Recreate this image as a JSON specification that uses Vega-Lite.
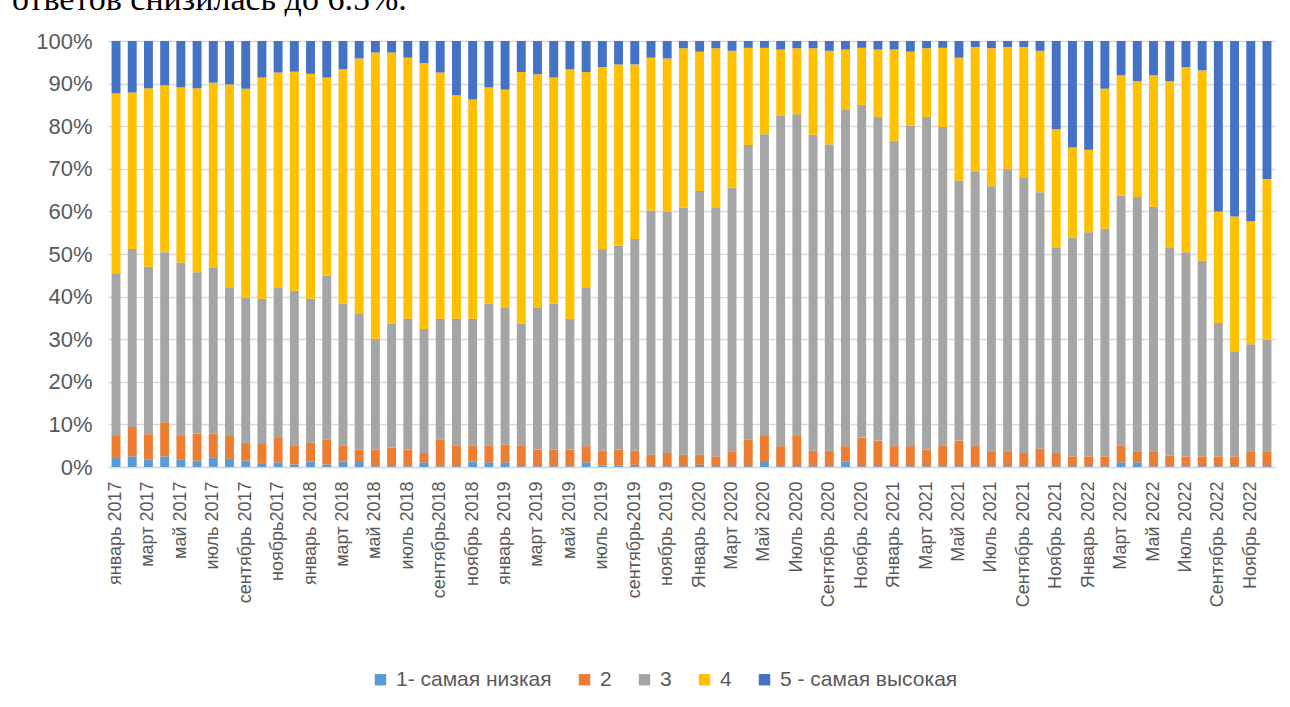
{
  "$schema": "https://vega.github.io/schema/vega-lite/v6.json",
  "width": 1167,
  "height": 426,
  "autosize": {"type": "none"},
  "padding": {"left": 108, "top": 41, "right": 15, "bottom": 240},
  "background": "white",
  "title": {
    "text": "ответов снизилась до 6.5%.",
    "font": "Liberation Serif",
    "fontSize": 34,
    "fontWeight": "normal",
    "color": "#000000",
    "anchor": "start",
    "frame": "group",
    "baseline": "alphabetic",
    "offset": 0,
    "dx": -96,
    "dy": 14
  },
  "data": {
    "values": [
      {"m": "январь 2017", "1- самая низкая": 2.1, "2": 5.2, "3": 38.2, "4": 42.2, "5 - самая высокая": 12.3},
      {"m": "февраль 2017", "1- самая низкая": 2.5, "2": 6.9, "3": 41.8, "4": 36.7, "5 - самая высокая": 12.1},
      {"m": "март 2017", "1- самая низкая": 1.7, "2": 6.0, "3": 39.3, "4": 41.9, "5 - самая высокая": 11.1},
      {"m": "апрель 2017", "1- самая низкая": 2.5, "2": 8.0, "3": 39.9, "4": 39.2, "5 - самая высокая": 10.4},
      {"m": "май 2017", "1- самая низкая": 1.7, "2": 5.6, "3": 40.7, "4": 41.1, "5 - самая высокая": 10.9},
      {"m": "июнь 2017", "1- самая низкая": 1.5, "2": 6.3, "3": 37.9, "4": 43.2, "5 - самая высокая": 11.1},
      {"m": "июль 2017", "1- самая низкая": 2.3, "2": 5.5, "3": 39.1, "4": 43.3, "5 - самая высокая": 9.8},
      {"m": "август 2017", "1- самая низкая": 1.9, "2": 5.4, "3": 34.9, "4": 47.6, "5 - самая высокая": 10.2},
      {"m": "сентябрь 2017", "1- самая низкая": 1.5, "2": 4.2, "3": 34.1, "4": 49.0, "5 - самая высокая": 11.2},
      {"m": "октябрь 2017", "1- самая низкая": 0.9, "2": 4.5, "3": 34.1, "4": 51.9, "5 - самая высокая": 8.6},
      {"m": "ноябрь2017", "1- самая низкая": 1.1, "2": 5.9, "3": 35.2, "4": 50.4, "5 - самая высокая": 7.4},
      {"m": "декабрь 2017", "1- самая низкая": 0.6, "2": 4.5, "3": 36.3, "4": 51.4, "5 - самая высокая": 7.2},
      {"m": "январь 2018", "1- самая низкая": 1.3, "2": 4.4, "3": 33.8, "4": 52.8, "5 - самая высокая": 7.7},
      {"m": "февраль 2018", "1- самая низкая": 0.6, "2": 5.9, "3": 38.4, "4": 46.5, "5 - самая высокая": 8.6},
      {"m": "март 2018", "1- самая низкая": 1.3, "2": 3.8, "3": 33.2, "4": 55.1, "5 - самая высокая": 6.6},
      {"m": "апрель 2018", "1- самая низкая": 1.4, "2": 2.7, "3": 31.8, "4": 60.0, "5 - самая высокая": 4.1},
      {"m": "май 2018", "1- самая низкая": 0.2, "2": 3.9, "3": 26.0, "4": 67.2, "5 - самая высокая": 2.7},
      {"m": "июнь 2018", "1- самая низкая": 0.2, "2": 4.3, "3": 29.1, "4": 63.7, "5 - самая высокая": 2.7},
      {"m": "июль 2018", "1- самая низкая": 0.2, "2": 3.9, "3": 30.7, "4": 61.3, "5 - самая высокая": 3.9},
      {"m": "август 2018", "1- самая низкая": 1.1, "2": 2.2, "3": 29.1, "4": 62.4, "5 - самая высокая": 5.2},
      {"m": "сентябрь2018", "1- самая низкая": 0.2, "2": 6.3, "3": 28.3, "4": 57.8, "5 - самая высокая": 7.4},
      {"m": "октябрь 2018", "1- самая низкая": 0.2, "2": 4.9, "3": 29.7, "4": 52.5, "5 - самая высокая": 12.7},
      {"m": "ноябрь 2018", "1- самая низкая": 1.3, "2": 3.8, "3": 29.7, "4": 51.5, "5 - самая высокая": 13.7},
      {"m": "декабрь 2018", "1- самая низкая": 1.1, "2": 4.0, "3": 33.3, "4": 50.7, "5 - самая высокая": 10.9},
      {"m": "январь 2019", "1- самая низкая": 1.1, "2": 4.2, "3": 32.2, "4": 51.1, "5 - самая высокая": 11.4},
      {"m": "февраль 2019", "1- самая низкая": 0.2, "2": 4.9, "3": 28.5, "4": 59.1, "5 - самая высокая": 7.3},
      {"m": "март 2019", "1- самая низкая": 0.2, "2": 3.9, "3": 33.2, "4": 54.9, "5 - самая высокая": 7.8},
      {"m": "апрель 2019", "1- самая низкая": 0.2, "2": 3.9, "3": 34.3, "4": 53.0, "5 - самая высокая": 8.6},
      {"m": "май 2019", "1- самая низкая": 0.2, "2": 3.9, "3": 30.7, "4": 58.6, "5 - самая высокая": 6.6},
      {"m": "июнь 2019", "1- самая низкая": 1.1, "2": 3.8, "3": 37.1, "4": 50.7, "5 - самая высокая": 7.3},
      {"m": "июль 2019", "1- самая низкая": 0.3, "2": 3.5, "3": 47.4, "4": 42.7, "5 - самая высокая": 6.1},
      {"m": "август 2019", "1- самая низкая": 0.3, "2": 3.8, "3": 47.9, "4": 42.5, "5 - самая высокая": 5.5},
      {"m": "сентябрь2019", "1- самая низкая": 0.5, "2": 3.3, "3": 49.7, "4": 41.0, "5 - самая высокая": 5.5},
      {"m": "октябрь 2019", "1- самая низкая": 0.2, "2": 2.7, "3": 57.3, "4": 35.9, "5 - самая высокая": 3.9},
      {"m": "ноябрь 2019", "1- самая низкая": 0.2, "2": 3.1, "3": 56.7, "4": 35.9, "5 - самая высокая": 4.1},
      {"m": "декабрь 2019", "1- самая низкая": 0.2, "2": 2.7, "3": 58.0, "4": 37.4, "5 - самая высокая": 1.7},
      {"m": "Январь 2020", "1- самая низкая": 0.5, "2": 2.4, "3": 61.9, "4": 32.7, "5 - самая высокая": 2.5},
      {"m": "Февраль 2020", "1- самая низкая": 0.2, "2": 2.3, "3": 58.3, "4": 37.5, "5 - самая высокая": 1.7},
      {"m": "Март 2020", "1- самая низкая": 0.2, "2": 3.5, "3": 61.9, "4": 32.1, "5 - самая высокая": 2.3},
      {"m": "Апрель 2020", "1- самая низкая": 0.2, "2": 6.3, "3": 69.1, "4": 22.8, "5 - самая высокая": 1.6},
      {"m": "Май 2020", "1- самая низкая": 1.4, "2": 5.9, "3": 70.8, "4": 20.3, "5 - самая высокая": 1.6},
      {"m": "Июнь 2020", "1- самая низкая": 0.2, "2": 4.7, "3": 77.5, "4": 15.6, "5 - самая высокая": 2.0},
      {"m": "Июль 2020", "1- самая низкая": 0.2, "2": 7.1, "3": 75.5, "4": 15.5, "5 - самая высокая": 1.7},
      {"m": "Август 2020", "1- самая низкая": 0.2, "2": 3.6, "3": 74.2, "4": 20.3, "5 - самая высокая": 1.7},
      {"m": "Сентябрь 2020", "1- самая низкая": 0.2, "2": 3.6, "3": 71.9, "4": 22.0, "5 - самая высокая": 2.3},
      {"m": "Октябрь 2020", "1- самая низкая": 1.3, "2": 3.6, "3": 79.1, "4": 14.0, "5 - самая высокая": 2.0},
      {"m": "Ноябрь 2020", "1- самая низкая": 0.2, "2": 6.7, "3": 78.1, "4": 13.4, "5 - самая высокая": 1.6},
      {"m": "Декабрь 2020", "1- самая низкая": 0.2, "2": 6.0, "3": 76.0, "4": 15.8, "5 - самая высокая": 2.0},
      {"m": "Январь 2021", "1- самая низкая": 0.2, "2": 4.7, "3": 71.7, "4": 21.4, "5 - самая высокая": 2.0},
      {"m": "Февраль 2021", "1- самая низкая": 0.2, "2": 4.7, "3": 75.2, "4": 17.4, "5 - самая высокая": 2.5},
      {"m": "Март 2021", "1- самая низкая": 0.2, "2": 3.9, "3": 78.1, "4": 16.1, "5 - самая высокая": 1.7},
      {"m": "Апрель 2021", "1- самая низкая": 0.2, "2": 4.9, "3": 74.7, "4": 18.6, "5 - самая высокая": 1.6},
      {"m": "Май 2021", "1- самая низкая": 0.2, "2": 6.0, "3": 61.0, "4": 28.9, "5 - самая высокая": 3.9},
      {"m": "Июнь 2021", "1- самая низкая": 0.2, "2": 4.7, "3": 64.5, "4": 29.2, "5 - самая высокая": 1.4},
      {"m": "Июль 2021", "1- самая низкая": 0.2, "2": 3.5, "3": 62.2, "4": 32.4, "5 - самая высокая": 1.7},
      {"m": "Август 2021", "1- самая низкая": 0.2, "2": 3.5, "3": 66.2, "4": 28.7, "5 - самая высокая": 1.4},
      {"m": "Сентябрь 2021", "1- самая низкая": 0.2, "2": 3.1, "3": 64.7, "4": 30.6, "5 - самая высокая": 1.4},
      {"m": "Октябрь 2021", "1- самая низкая": 0.2, "2": 4.1, "3": 60.2, "4": 33.2, "5 - самая высокая": 2.3},
      {"m": "Ноябрь 2021", "1- самая низкая": 0.2, "2": 3.1, "3": 48.3, "4": 27.7, "5 - самая высокая": 20.7},
      {"m": "Декабрь 2021", "1- самая низкая": 0.2, "2": 2.3, "3": 51.4, "4": 21.1, "5 - самая высокая": 25.0},
      {"m": "Январь 2022", "1- самая низкая": 0.2, "2": 2.3, "3": 52.6, "4": 19.4, "5 - самая высокая": 25.5},
      {"m": "Февраль 2022", "1- самая низкая": 0.2, "2": 2.3, "3": 53.4, "4": 32.9, "5 - самая высокая": 11.2},
      {"m": "Март 2022", "1- самая низкая": 1.1, "2": 4.0, "3": 58.6, "4": 28.3, "5 - самая высокая": 8.0},
      {"m": "Апрель 2022", "1- самая низкая": 1.1, "2": 2.6, "3": 59.7, "4": 27.2, "5 - самая высокая": 9.4},
      {"m": "Май 2022", "1- самая низкая": 0.2, "2": 3.5, "3": 57.4, "4": 30.9, "5 - самая высокая": 8.0},
      {"m": "Июнь 2022", "1- самая низкая": 0.2, "2": 2.5, "3": 48.7, "4": 39.2, "5 - самая высокая": 9.4},
      {"m": "Июль 2022", "1- самая низкая": 0.2, "2": 2.3, "3": 47.9, "4": 43.5, "5 - самая высокая": 6.1},
      {"m": "Август 2022", "1- самая низкая": 0.2, "2": 2.3, "3": 45.9, "4": 44.7, "5 - самая высокая": 6.9},
      {"m": "Сентябрь 2022", "1- самая низкая": 0.2, "2": 2.3, "3": 31.3, "4": 26.2, "5 - самая высокая": 40.0},
      {"m": "Октябрь 2022", "1- самая низкая": 0.2, "2": 2.3, "3": 24.7, "4": 31.6, "5 - самая высокая": 41.2},
      {"m": "Ноябрь 2022", "1- самая низкая": 0.2, "2": 3.5, "3": 25.1, "4": 28.9, "5 - самая высокая": 42.3},
      {"m": "Декабрь 2022", "1- самая низкая": 0.2, "2": 3.5, "3": 26.1, "4": 37.8, "5 - самая высокая": 32.4}
    ]
  },
  "transform": [
    {"fold": ["1- самая низкая", "2", "3", "4", "5 - самая высокая"], "as": ["cat", "val"]}
  ],
  "mark": {"type": "bar"},
  "encoding": {
    "x": {
      "field": "m",
      "type": "nominal",
      "sort": null,
      "scale": {"paddingInner": 0.45, "paddingOuter": 0.22},
      "axis": {
        "title": null,
        "values": ["январь 2017", "март 2017", "май 2017", "июль 2017", "сентябрь 2017", "ноябрь2017", "январь 2018", "март 2018", "май 2018", "июль 2018", "сентябрь2018", "ноябрь 2018", "январь 2019", "март 2019", "май 2019", "июль 2019", "сентябрь2019", "ноябрь 2019", "Январь 2020", "Март 2020", "Май 2020", "Июль 2020", "Сентябрь 2020", "Ноябрь 2020", "Январь 2021", "Март 2021", "Май 2021", "Июль 2021", "Сентябрь 2021", "Ноябрь 2021", "Январь 2022", "Март 2022", "Май 2022", "Июль 2022", "Сентябрь 2022", "Ноябрь 2022"],
        "labelAngle": -90,
        "labelFont": "Liberation Sans",
        "labelFontSize": 18,
        "labelColor": "#595959",
        "labelPadding": 14,
        "ticks": false,
        "domainColor": "#d9d9d9",
        "domainWidth": 1.5,
        "grid": false
      }
    },
    "y": {
      "field": "val",
      "type": "quantitative",
      "stack": "normalize",
      "scale": {"domain": [0, 1], "nice": false},
      "axis": {
        "title": null,
        "values": [0, 0.1, 0.2, 0.3, 0.4, 0.5, 0.6, 0.7, 0.8, 0.9, 1],
        "format": ".0%",
        "labelFont": "Liberation Sans",
        "labelFontSize": 22,
        "labelColor": "#595959",
        "labelPadding": 16,
        "ticks": false,
        "domain": false,
        "gridColor": "#d9d9d9",
        "gridWidth": 1.5
      }
    },
    "color": {
      "field": "cat",
      "type": "nominal",
      "scale": {
        "domain": ["1- самая низкая", "2", "3", "4", "5 - самая высокая"],
        "range": ["#5B9BD5", "#ED7D31", "#A5A5A5", "#FFC000", "#4472C4"]
      },
      "legend": {
        "title": null,
        "orient": "none",
        "direction": "horizontal",
        "columns": 5,
        "legendX": 262,
        "legendY": 628,
        "symbolType": "square",
        "symbolSize": 130,
        "symbolStrokeWidth": 0,
        "labelFont": "Liberation Sans",
        "labelFontSize": 21,
        "labelColor": "#595959",
        "labelOffset": 5,
        "labelLimit": 0,
        "columnPadding": 22
      }
    },
    "order": {"field": "cat", "sort": "ascending"}
  },
  "config": {
    "view": {"stroke": null}
  }
}
